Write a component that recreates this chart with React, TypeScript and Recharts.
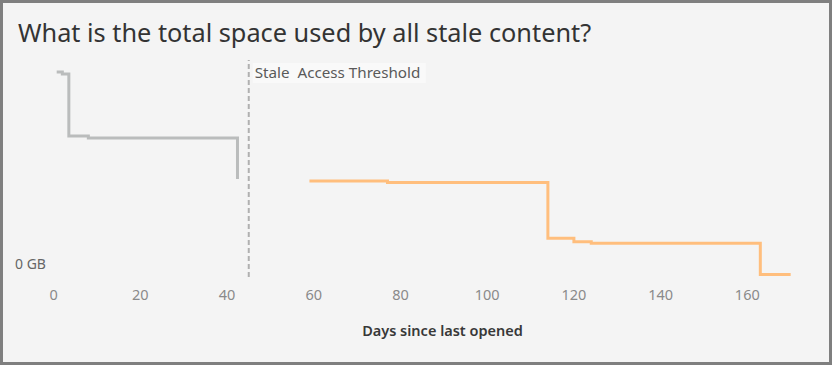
import { LineChart, Line, XAxis, YAxis, ReferenceLine, Label } from 'recharts';

// cumulative size of stale content (GB) by days since last opened
const activeDays = [0.7, 2, 3.5, 8, 42.4];
const activeSize = [9.45, 9.35, 6.5, 6.41, 4.52];
const staleDays = [59, 77, 114, 120, 124, 163, 170];
const staleSize = [4.42, 4.35, 1.78, 1.63, 1.55, 0.12, 0.12];
const dayTicks = [0, 20, 40, 60, 80, 100, 120, 140, 160];
const thresholdDay = 45;

const activeData = activeDays.map((d, i) => ({ day: d, size: activeSize[i] }));
const staleData = staleDays.map((d, i) => ({ day: d, size: staleSize[i] }));

const FONT = '"Noto Sans", sans-serif';

function GbTick({ y }: any) {
  return (
    <text x={15} y={y - 13} dy="0.35em" textAnchor="start" fill="#666" fontSize={14} fontFamily={FONT}>
      0 GB
    </text>
  );
}

function ThresholdLabel({ viewBox }: any) {
  const x = viewBox.x;
  const y = viewBox.y;
  return (
    <g>
      <rect x={x + 4} y={y + 3} width={173} height={20} fill="#f9f9f9" />
      <text x={x + 6} y={y + 13} dy="0.35em" fill="#5a5a5a" fontSize={15.2} fontFamily={FONT} xmlSpace="preserve">
        Stale  Access Threshold
      </text>
    </g>
  );
}

export default function App() {
  return (
    <div style={{ position: 'relative', width: 832, height: 365 }}>
      <style>{`body{margin:0}`}</style>
      <div
        style={{
          position: 'absolute',
          left: 0,
          top: 0,
          width: 832,
          height: 365,
          boxSizing: 'border-box',
          border: '3px solid #7f7f7f',
          background: '#f4f4f4',
        }}
      />
      <div
        style={{
          position: 'absolute',
          left: 18,
          top: 20,
          fontFamily: FONT,
          fontSize: 25.3,
          lineHeight: '25px',
          color: '#333',
          whiteSpace: 'nowrap',
        }}
      >
        What is the total space used by all stale content?
      </div>
      <div style={{ position: 'absolute', left: 0, top: 0 }}>
        <LineChart width={832} height={365} data={activeData} margin={{ top: 60, right: 24, bottom: 28, left: 15 }}>
          <XAxis
            type="number"
            dataKey="day"
            domain={[-2, 174]}
            ticks={dayTicks}
            axisLine={false}
            tickLine={false}
            tickSize={0}
            tickMargin={13}
            height={60}
            tick={{ fill: '#8a8a8a', fontSize: 14.5, fontFamily: FONT }}
            allowDataOverflow
          >
            <Label
              value="Days since last opened"
              position="insideBottom"
              offset={1}
              dx={16}
              fill="#383838"
              fontSize={14.5}
              fontWeight={600}
              fontFamily={FONT}
            />
          </XAxis>
          <YAxis
            type="number"
            domain={[0, 10]}
            ticks={[0]}
            width={30}
            axisLine={false}
            tickLine={false}
            tick={<GbTick />}
          />
          <ReferenceLine
            x={thresholdDay}
            stroke="#b0b0b0"
            strokeWidth={2}
            strokeDasharray="5 3"
            label={<ThresholdLabel />}
          />
          <Line
            data={activeData}
            dataKey="size"
            type="stepAfter"
            stroke="#babcbc"
            strokeWidth={3}
            dot={false}
            isAnimationActive={false}
          />
          <Line
            data={staleData}
            dataKey="size"
            type="stepAfter"
            stroke="#ffbe7d"
            strokeWidth={3}
            dot={false}
            isAnimationActive={false}
          />
        </LineChart>
      </div>
    </div>
  );
}
